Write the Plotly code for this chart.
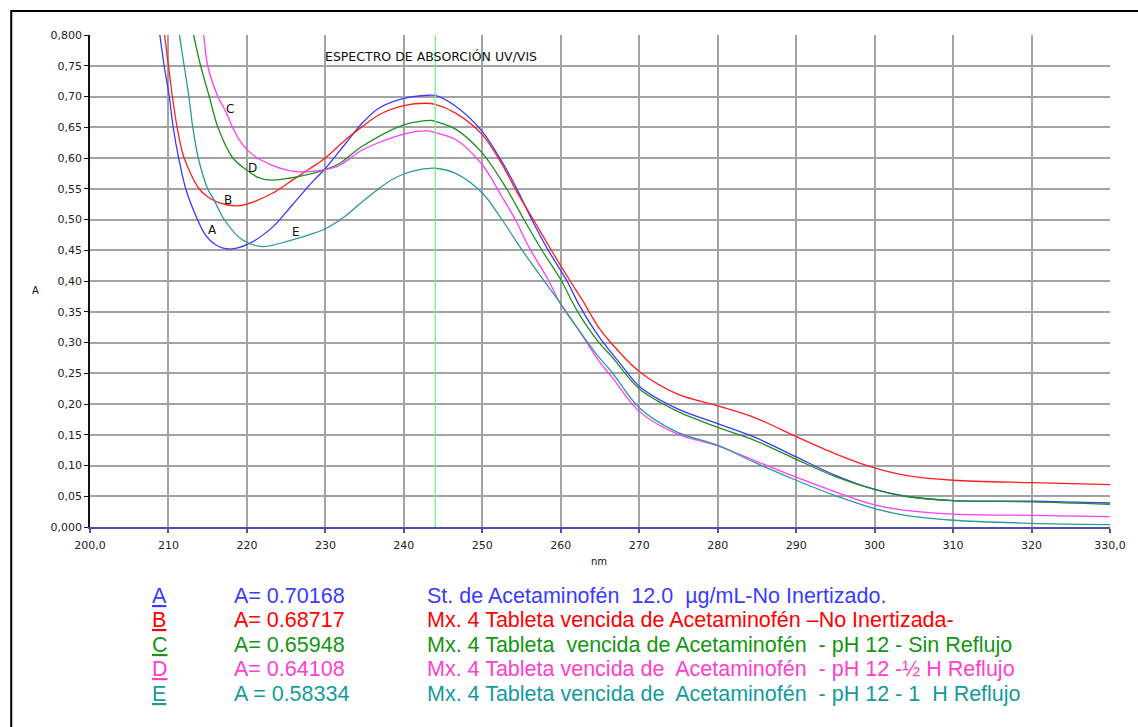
import plotly.graph_objects as go

# ---------------- data ----------------
nm_A = [208.9, 209.45, 210.1, 210.6, 211.3, 212.2, 213.7, 214.7, 216.0, 217.7, 220.0, 223.3, 225.8, 228.4, 230.0,
        232.6, 234.7, 236.8, 240.0, 243.2, 244.0, 246.6, 250.0, 252.5, 254.4, 256.3, 258.4, 260.8, 262.3, 265.0,
        267.5, 270.0, 274.9, 280.0, 284.7, 290.0, 295.0, 300.0, 303.9, 310.0, 320.0, 330.0]
abs_A = [0.800, 0.750, 0.700, 0.650, 0.600, 0.550, 0.500, 0.475, 0.459, 0.452, 0.459, 0.488, 0.524, 0.562, 0.583,
         0.624, 0.657, 0.681, 0.697, 0.702, 0.70168, 0.684, 0.643, 0.594, 0.550, 0.500, 0.450, 0.400, 0.362, 0.307,
         0.267, 0.229, 0.192, 0.168, 0.146, 0.114, 0.084, 0.061, 0.050, 0.043, 0.042, 0.039]

nm_B = [209.5, 210.0, 210.5, 211.1, 212.0, 213.9, 215.0, 216.5, 218.6, 220.0, 223.3, 225.8, 228.4, 230.0, 232.6,
        234.7, 236.8, 240.0, 242.8, 244.0, 246.6, 250.0, 252.5, 254.4, 256.5, 258.8, 261.2, 262.7, 264.8, 266.5,
        270.0, 274.9, 280.0, 284.7, 290.0, 295.0, 300.0, 303.9, 310.0, 320.0, 330.0]
abs_B = [0.800, 0.750, 0.700, 0.650, 0.600, 0.550, 0.537, 0.527, 0.522, 0.525, 0.543, 0.564, 0.586, 0.600, 0.630,
         0.651, 0.670, 0.685, 0.689, 0.68717, 0.673, 0.638, 0.590, 0.545, 0.500, 0.450, 0.400, 0.370, 0.325, 0.298,
         0.253, 0.216, 0.197, 0.178, 0.147, 0.119, 0.096, 0.084, 0.076, 0.072, 0.069]

nm_C = [213.2, 214.1, 215.2, 216.3, 218.2, 219.9, 221.5, 223.0, 226.7, 230.0, 231.8, 234.7, 240.0, 243.6, 244.0,
        246.6, 250.0, 253.1, 255.3, 257.6, 260.1, 261.3, 262.3, 264.8, 266.5, 270.0, 274.9, 280.0, 284.7, 290.0,
        295.0, 300.0, 303.9, 310.0, 320.0, 330.0]
abs_C = [0.800, 0.750, 0.700, 0.650, 0.600, 0.581, 0.568, 0.564, 0.570, 0.581, 0.591, 0.619, 0.654, 0.661, 0.65948,
         0.647, 0.608, 0.550, 0.500, 0.450, 0.400, 0.370, 0.347, 0.301, 0.277, 0.225, 0.188, 0.162, 0.141, 0.110,
         0.082, 0.061, 0.050, 0.043, 0.041, 0.037]

nm_D = [214.5, 215.0, 216.3, 217.4, 218.0, 219.0, 220.3, 221.6, 224.1, 226.3, 228.0, 230.0, 231.8, 234.7, 240.0,
        243.0, 244.0, 246.6, 250.0, 252.5, 254.2, 255.9, 258.4, 260.0, 262.3, 264.8, 266.5, 270.0, 274.9, 280.0,
        284.7, 290.0, 295.0, 300.0, 303.9, 310.0, 320.0, 330.0]
abs_D = [0.800, 0.750, 0.700, 0.673, 0.655, 0.630, 0.610, 0.598, 0.584, 0.578, 0.578, 0.581, 0.588, 0.613, 0.639,
         0.644, 0.64108, 0.630, 0.589, 0.537, 0.500, 0.456, 0.402, 0.362, 0.320, 0.271, 0.244, 0.188, 0.151, 0.132,
         0.108, 0.081, 0.057, 0.036, 0.027, 0.021, 0.019, 0.017]

nm_E = [211.4, 212.0, 212.6, 213.1, 213.8, 215.0, 215.8, 217.1, 219.4, 222.0, 225.8, 228.4, 230.0, 232.6, 234.7,
        236.8, 238.5, 240.0, 242.0, 244.0, 246.6, 250.0, 252.5, 254.2, 255.9, 258.4, 260.0, 262.3, 264.8, 266.5,
        270.0, 274.9, 280.0, 284.7, 290.0, 295.0, 300.0, 303.9, 310.0, 320.0, 330.0]
abs_E = [0.800, 0.750, 0.700, 0.650, 0.600, 0.550, 0.532, 0.500, 0.467, 0.456, 0.467, 0.477, 0.485, 0.506, 0.529,
         0.550, 0.565, 0.574, 0.581, 0.58334, 0.575, 0.543, 0.500, 0.467, 0.435, 0.391, 0.363, 0.320, 0.277, 0.252,
         0.194, 0.154, 0.133, 0.105, 0.076, 0.051, 0.030, 0.019, 0.011, 0.006, 0.004]

marker_nm = 244.0

x_ticks = [200, 210, 220, 230, 240, 250, 260, 270, 280, 290, 300, 310, 320, 330]
x_ticktext = ["200,0", "210", "220", "230", "240", "250", "260", "270", "280", "290", "300", "310", "320", "330,0"]
y_ticks = [0.0, 0.05, 0.10, 0.15, 0.20, 0.25, 0.30, 0.35, 0.40, 0.45, 0.50, 0.55, 0.60, 0.65, 0.70, 0.75, 0.80]
y_ticktext = ["0,000", "0,05", "0,10", "0,15", "0,20", "0,25", "0,30", "0,35", "0,40", "0,45", "0,50", "0,55",
              "0,60", "0,65", "0,70", "0,75", "0,800"]

curve_letters = ["A", "B", "C", "D", "E"]
legend_values = ["A= 0.70168", "A= 0.68717", "A= 0.65948", "A= 0.64108", "A = 0.58334"]
legend_desc = [
    "St. de Acetaminofén  12.0  µg/mL-No Inertizado.",
    "Mx. 4 Tableta vencida de Acetaminofén –No Inertizada-",
    "Mx. 4 Tableta  vencida de Acetaminofén  - pH 12 - Sin Reflujo",
    "Mx. 4 Tableta vencida de  Acetaminofén  - pH 12 -½ H Reflujo",
    "Mx. 4 Tableta vencida de  Acetaminofén  - pH 12 - 1  H Reflujo",
]

line_colors = ["#3a3aff", "#ff1f1f", "#1f8f1f", "#ff3cff", "#2a9a9a"]
text_colors = ["#3b3bff", "#ff0000", "#139613", "#ff40cc", "#149c9c"]

# ---------------- figure ----------------
W, H = 1138, 727
L, R, T, B = 90, 25, 35, 200
pw, ph = W - L - R, H - T - B


def px(xp):
    return (xp - L) / pw


def py(yp):
    return (H - B - yp) / ph


fig = go.Figure()
series = [(nm_A, abs_A), (nm_B, abs_B), (nm_C, abs_C), (nm_D, abs_D), (nm_E, abs_E)]
for (xs, ys), c, name in zip(series, line_colors, curve_letters):
    fig.add_trace(go.Scatter(x=xs, y=ys, mode="lines", name=name,
                             line=dict(color=c, width=1.3, shape="spline", smoothing=0.9),
                             showlegend=False, cliponaxis=True))

# green marker line at the reading wavelength
fig.add_shape(type="line", xref="x", yref="paper", x0=marker_nm, x1=marker_nm, y0=0, y1=1,
              line=dict(color="#7ef07e", width=1.3), layer="above")

# outer frame
fig.add_shape(type="rect", xref="paper", yref="paper", x0=px(11), x1=px(1150), y0=py(745), y1=py(11),
              line=dict(color="black", width=2), layer="below")

ann = []
ann.append(dict(text="ESPECTRO DE ABSORCIÓN UV/VIS", xref="paper", yref="paper", x=px(324), y=py(57),
                xanchor="left", yanchor="middle", showarrow=False,
                font=dict(family="DejaVu Sans", size=12.5, color="#111")))
ann.append(dict(text="A", xref="paper", yref="paper", x=px(35), y=py(290), xanchor="center", yanchor="middle",
                showarrow=False, font=dict(family="DejaVu Sans", size=10, color="#111")))
ann.append(dict(text="nm", xref="paper", yref="paper", x=px(600), y=py(561), xanchor="center", yanchor="middle",
                showarrow=False, font=dict(family="DejaVu Sans", size=10, color="#111")))

# curve labels
label_pos = [(215.55, 0.4836), (217.6, 0.532), (217.8, 0.679), (220.7, 0.584), (226.2, 0.480)]
for t, (lx, ly) in zip(curve_letters, label_pos):
    ann.append(dict(text=t, x=lx, y=ly, xref="x", yref="y", showarrow=False, xanchor="center", yanchor="middle",
                    font=dict(family="DejaVu Sans", size=12, color="#111")))

# legend block below the plot
row_y = [596, 620, 645, 669, 694]
for i in range(5):
    f = dict(family="Liberation Sans, Arial", size=21.5, color=text_colors[i])
    ann.append(dict(text="<u>" + curve_letters[i] + "</u>", xref="paper", yref="paper", x=px(150), y=py(row_y[i]),
                    xanchor="left", yanchor="middle", showarrow=False, font=f))
    ann.append(dict(text=legend_values[i], xref="paper", yref="paper", x=px(232), y=py(row_y[i]),
                    xanchor="left", yanchor="middle", showarrow=False, font=f))
    ann.append(dict(text=legend_desc[i], xref="paper", yref="paper", x=px(426), y=py(row_y[i]),
                    xanchor="left", yanchor="middle", showarrow=False, font=f))

fig.update_layout(
    width=W, height=H, margin=dict(l=L, r=R, t=T, b=B),
    paper_bgcolor="white", plot_bgcolor="white",
    annotations=ann,
    xaxis=dict(range=[200, 330], tickmode="array", tickvals=x_ticks, ticktext=x_ticktext,
               showgrid=True, gridcolor="#a3a3a3", gridwidth=1.5, zeroline=False,
               showline=True, linecolor="#4f4fb0", linewidth=2, ticks="outside", ticklen=4,
               tickcolor="#4f4fb0", tickwidth=1.5, ticklabelstandoff=3,
               tickfont=dict(family="DejaVu Sans", size=11, color="#222")),
    yaxis=dict(range=[0, 0.8], tickmode="array", tickvals=y_ticks, ticktext=y_ticktext,
               showgrid=True, gridcolor="#a3a3a3", gridwidth=1.5, zeroline=False,
               showline=True, linecolor="#111", linewidth=1.5, ticks="outside", ticklen=4,
               tickcolor="#111", tickwidth=1,
               tickfont=dict(family="DejaVu Sans", size=11, color="#222")),
)

fig.write_html("out.html")
